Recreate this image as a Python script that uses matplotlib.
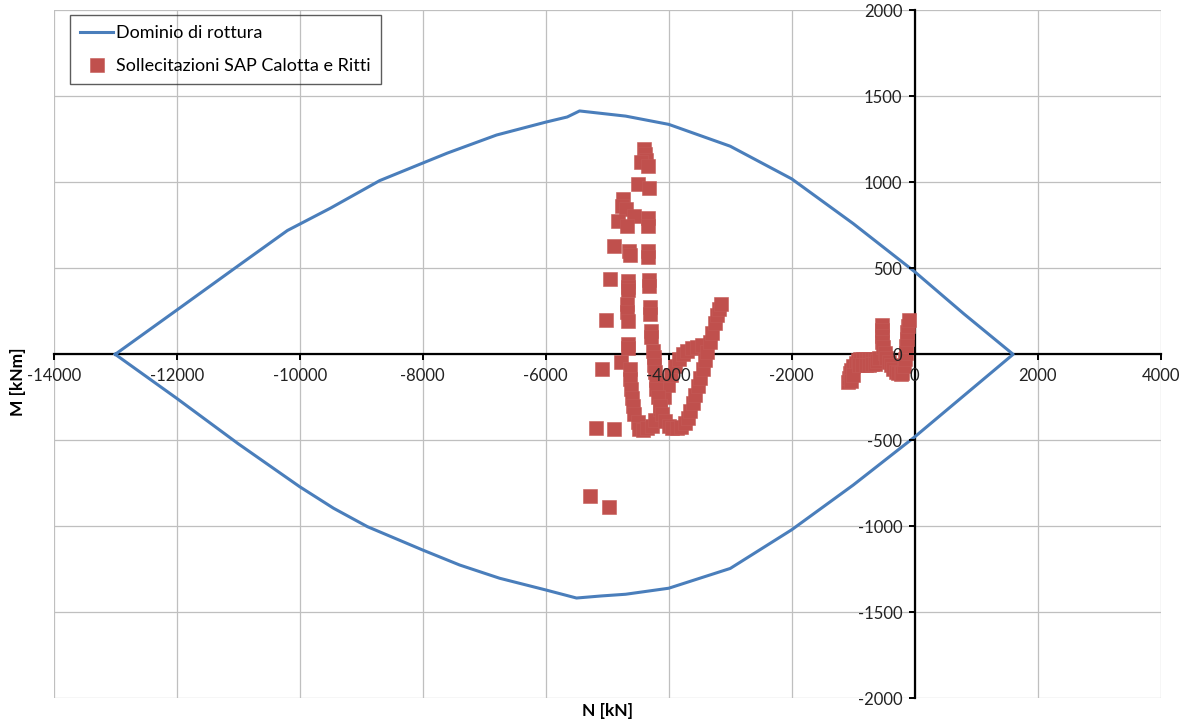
import matplotlib.pyplot as plt

plt.rcParams['font.family'] = ['Lato', 'DejaVu Sans']
plt.rcParams['axes.unicode_minus'] = False

# Dominio di rottura N-M: upper branch (left -> right), lower branch (right -> left)
n_dom_sup = [-13000, -12000, -11000, -10200, -9500, -8700, -8000, -7600, -6800, -6000,
             -5650, -5450, -4700, -4000, -3000, -2000, -1000, 0, 800, 1600]
m_dom_sup = [0, 257, 515, 720, 850, 1010, 1112, 1170, 1275, 1350,
             1380, 1415, 1385, 1337, 1210, 1020, 760, 480, 235, 0]
n_dom_inf = [1600, 800, 0, -1000, -2000, -3000, -4000, -4700, -5100, -5500,
             -6000, -6750, -7400, -8000, -8900, -9450, -10000, -11000, -12000, -13000]
m_dom_inf = [0, -240, -480, -760, -1020, -1245, -1360, -1395, -1405, -1417,
             -1370, -1302, -1225, -1138, -1002, -895, -770, -520, -256, 0]

# Sollecitazioni SAP - calotta
n_calotta = [-4407, -4390, -4370, -4455, -4341, -4504, -4325, -4748, -4764, -4699,
             -4569, -4341, -4829, -4683, -4341, -4894, -4650, -4634, -4341, -4341,
             -4959, -4667, -4667, -4667, -4325, -4325, -4683, -4683, -4667, -4309,
             -4309, -5024, -4293, -4293, -4667, -4667, -4260, -4244, -4780, -5089,
             -4634, -4625, -4618, -4600, -4585, -4569, -4504, -4488, -5187, -4894,
             -5285, -4976,
             -4420, -4350, -4280, -4220, -4150, -4080, -4020, -3960, -3900, -3840,
             -3770, -3700, -3620, -3540, -3460,
             -4240, -4230, -4215, -4200, -4180, -4150, -4110, -4060, -4000, -3940,
             -3870, -3800, -3740, -3690, -3650, -3610, -3570, -3530, -3490, -3450,
             -3410, -3370, -3330, -3290, -3250, -3210, -3180, -3150]
m_calotta = [1192, 1163, 1130, 1116, 1093, 988, 965, 901, 860, 843,
             802, 791, 773, 744, 744, 628, 599, 576, 599, 564,
             436, 424, 390, 372, 430, 395, 291, 244, 192, 273,
             233, 198, 134, 99, 58, 35, 17, -17, -47, -87,
             -87, -145, -203, -255, -302, -349, -395, -436, -430, -436,
             -826, -890,
             -440, -430, -415, -380, -320, -250, -180, -120, -70, -30,
             0, 20, 35, 45, 55,
             -60, -105, -150, -200, -250, -300, -345, -385, -415, -430,
             -430, -420, -400, -370, -330, -285, -235, -185, -135, -85,
             -35, 15, 70, 125, 180, 230, 265, 290]

# Sollecitazioni SAP - ritti
n_ritti = [-1085, -1070, -1050, -1030, -1000, -960, -920, -1040, -1000,
           -890, -840, -790, -740, -690, -650,
           -900, -850, -800, -750, -700, -650,
           -610, -580,
           -540, -540, -535, -525, -510, -490, -460, -425, -390, -350,
           -310, -270, -230, -200,
           -180, -165, -150, -140, -130, -120, -110, -100]
m_ritti = [-160, -135, -110, -90, -70, -50, -35, -155, -120,
           -25, -25, -25, -25, -25, -25,
           -65, -65, -62, -60, -58, -55,
           -40, -20,
           170, 140, 105, 70, 40, 10, -20, -45, -65, -85,
           -100, -110, -115, -110,
           -70, -30, 10, 50, 90, 130, 165, 200]

x_ticks = list(range(-14000, 4001, 2000))
y_ticks = list(range(-2000, 2001, 500))

fig = plt.figure(figsize=(11.97, 7.28), dpi=100)
ax = fig.add_axes([0.0449, 0.0408, 0.9248, 0.945])

# light gridlines kept under the data
grid_color = '#BFBFBF'
for xv in x_ticks:
    ax.axvline(xv, color=grid_color, lw=0.9, zorder=0.5)
for yv in y_ticks:
    ax.axhline(yv, color=grid_color, lw=0.9, zorder=0.5)

ax.plot(n_dom_sup + n_dom_inf, m_dom_sup + m_dom_inf, color='#4A7EBB', lw=2.2,
        label='Dominio di rottura', zorder=2.1)
ax.plot(n_calotta + n_ritti, m_calotta + m_ritti, ls='none', marker='s', ms=9.4,
        mfc='#C0504D', mec='#C55A57', mew=0.4,
        label='Sollecitazioni SAP Calotta e Ritti', zorder=2.2)

ax.set_xlim(-14000, 4000)
ax.set_ylim(-2000, 2000)
ax.set_xticks(x_ticks)
ax.set_yticks(y_ticks)

# axes crossing at the origin
for side in ['top', 'right']:
    ax.spines[side].set_visible(False)
ax.spines['left'].set_position(('data', 0))
ax.spines['bottom'].set_position(('data', 0))
for side in ['left', 'bottom']:
    ax.spines[side].set_color('black')
    ax.spines[side].set_linewidth(1.6)
    ax.spines[side].set_zorder(1.5)

ax.set_axisbelow(False)
ax.tick_params(direction='out', length=4, width=1.4, color='black',
               labelsize=12, labelcolor='#222222')
ax.tick_params(axis='x', pad=6)
ax.tick_params(axis='y', pad=5)

ax.set_xlabel('N [kN]', fontweight='bold', fontsize=12.5)
ax.xaxis.set_label_coords(0.5, -0.007)
ax.set_ylabel('M [kNm]', fontweight='bold', fontsize=12.5)
ax.yaxis.set_label_coords(-0.025, 0.46)

leg = ax.legend(loc='upper left', bbox_to_anchor=(70 / 1197, 1 - 15 / 728),
                bbox_transform=fig.transFigure, frameon=True, fancybox=False,
                edgecolor='#333333', facecolor='none', fontsize=13,
                handlelength=1.85, handletextpad=0.15, labelspacing=0.97,
                borderpad=0.55, borderaxespad=0)
leg.get_frame().set_linewidth(1.0)

fig.savefig('out.png', dpi=100)
